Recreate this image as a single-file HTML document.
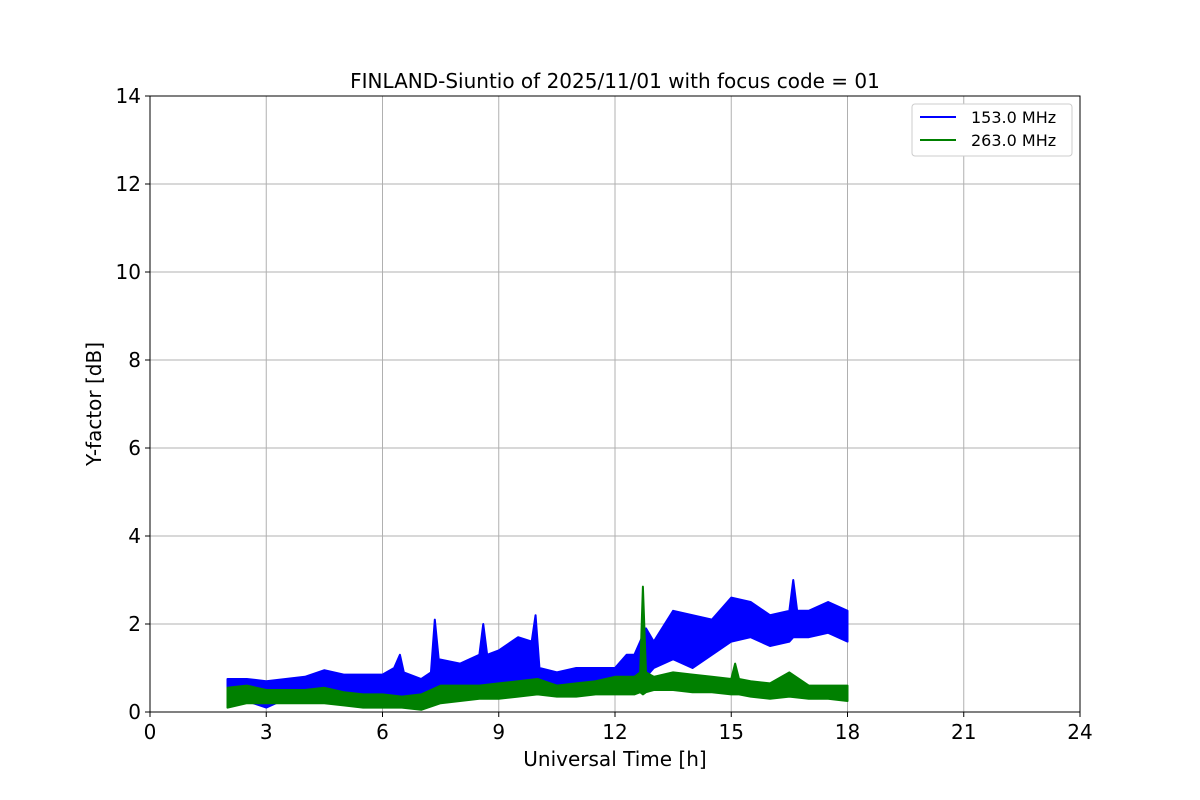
<!DOCTYPE html>
<html><head><meta charset="utf-8"><style>
body{margin:0;background:#fff;font-family:"Liberation Sans","DejaVu Sans",sans-serif;}
svg{display:block}
</style></head><body>
<svg id="chart" width="1200" height="800" font-family="DejaVu Sans, Liberation Sans, sans-serif">
<rect width="1200" height="800" fill="#fff"/>
<g id="grid"></g>
<g id="series"></g>
<rect x="150" y="96" width="930" height="616" fill="none" stroke="#000" stroke-width="1"/>
<g id="ticks"></g>
<text x="615" y="88" text-anchor="middle" font-size="20">FINLAND-Siuntio of 2025/11/01 with focus code = 01</text>
<text x="615" y="766" text-anchor="middle" font-size="20">Universal Time [h]</text>
<text transform="translate(101,404) rotate(-90)" text-anchor="middle" font-size="20">Y-factor [dB]</text>
<g>
<rect x="912" y="104" width="160" height="52" rx="3" fill="#fff" stroke="#ccc"/>
<line x1="920" y1="117" x2="956" y2="117" stroke="#0000ff" stroke-width="2"/>
<text x="971" y="123" font-size="16"> 153.0 MHz</text>
<line x1="920" y1="140" x2="956" y2="140" stroke="#008000" stroke-width="2"/>
<text x="971" y="146" font-size="16">263.0 MHz</text>
</g>
</svg>
<script>
const xTicks=[0,3,6,9,12,15,18,21,24];
const yTicks=[0,2,4,6,8,10,12,14];
const blueT=[2.0,2.5,3.0,3.5,4.0,4.5,5.0,5.5,6.0,6.3,6.45,6.55,7.0,7.25,7.35,7.45,8.0,8.5,8.6,8.7,9.0,9.5,9.85,9.95,10.05,10.5,11.0,11.5,12.0,12.3,12.5,12.8,13.0,13.5,14.0,14.5,15.0,15.5,16.0,16.5,16.6,16.7,17.0,17.5,18.0];
const blueLo=[0.2,0.25,0.1,0.3,0.35,0.4,0.3,0.35,0.3,0.3,0.25,0.3,0.2,0.35,0.4,0.5,0.3,0.4,0.6,0.5,0.5,0.7,0.6,0.6,0.5,0.5,0.6,0.6,0.6,0.6,0.7,0.8,1.0,1.2,1.0,1.3,1.6,1.7,1.5,1.6,1.7,1.7,1.7,1.8,1.6];
const blueHi=[0.75,0.75,0.7,0.75,0.8,0.95,0.85,0.85,0.85,1.0,1.3,0.9,0.75,0.9,2.1,1.2,1.1,1.3,2.0,1.3,1.4,1.7,1.6,2.2,1.0,0.9,1.0,1.0,1.0,1.3,1.3,1.9,1.6,2.3,2.2,2.1,2.6,2.5,2.2,2.3,3.0,2.3,2.3,2.5,2.3];
const greenT=[2.0,2.5,3.0,3.5,4.0,4.5,5.0,5.5,6.0,6.5,7.0,7.5,8.0,8.5,9.0,9.5,10.0,10.5,11.0,11.5,12.0,12.5,12.65,12.72,12.8,13.0,13.5,14.0,14.5,15.0,15.1,15.2,15.5,16.0,16.5,17.0,17.5,18.0];
const greenLo=[0.1,0.2,0.2,0.2,0.2,0.2,0.15,0.1,0.1,0.1,0.05,0.2,0.25,0.3,0.3,0.35,0.4,0.35,0.35,0.4,0.4,0.4,0.45,0.4,0.45,0.5,0.5,0.45,0.45,0.4,0.4,0.4,0.35,0.3,0.35,0.3,0.3,0.25];
const greenHi=[0.55,0.6,0.5,0.5,0.5,0.55,0.45,0.4,0.4,0.35,0.4,0.6,0.6,0.6,0.65,0.7,0.75,0.6,0.65,0.7,0.8,0.8,0.9,2.85,0.9,0.8,0.9,0.85,0.8,0.75,1.1,0.75,0.7,0.65,0.9,0.6,0.6,0.6];
const X0=150,X1=1080,Y0=712,Y1=96;
const xs=v=>X0+(v-0)/24*(X1-X0);
const ys=v=>Y0-(v-0)/14*(Y0-Y1);
const NS='http://www.w3.org/2000/svg';
const grid=document.getElementById('grid'),ticks=document.getElementById('ticks'),ser=document.getElementById('series');
function mk(tag,attrs,parent){const e=document.createElementNS(NS,tag);for(const k in attrs)e.setAttribute(k,attrs[k]);parent.appendChild(e);return e;}
xTicks.forEach(t=>{
  const g=mk('line',{x1:xs(t),x2:xs(t),y1:Y1,y2:Y0,stroke:'#b0b0b0','stroke-width':1},grid);
  
  
  const m=mk('line',{x1:xs(t),x2:xs(t),y1:Y0,y2:Y0+5,stroke:'#000'},ticks);
  
  
  const l=mk('text',{x:xs(t),y:Y0+27,'text-anchor':'middle','font-size':20},ticks);
  l.textContent=t;
  
  
});
yTicks.forEach(t=>{
  const g=mk('line',{x1:X0,x2:X1,y1:ys(t),y2:ys(t),stroke:'#b0b0b0','stroke-width':1},grid);
  
  
  const m=mk('line',{x1:X0-5,x2:X0,y1:ys(t),y2:ys(t),stroke:'#000'},ticks);
  
  
  const l=mk('text',{x:X0-9,y:ys(t)+7,'text-anchor':'end','font-size':20},ticks);
  l.textContent=t;
  
  
});
function band(T,lo,hi,color,name){
  let pts=[];
  for(let i=0;i<T.length;i++)pts.push(xs(T[i])+','+ys(hi[i]));
  for(let i=T.length-1;i>=0;i--)pts.push(xs(T[i])+','+ys(lo[i]));
  const p=mk('polygon',{points:pts.join(' '),fill:color,stroke:color,'stroke-width':2,'stroke-linejoin':'round'},ser);
  
  
}
band(blueT,blueLo,blueHi,'#0000ff','series-153mhz');
band(greenT,greenLo,greenHi,'#008000','series-263mhz');
</script>
</body></html>
